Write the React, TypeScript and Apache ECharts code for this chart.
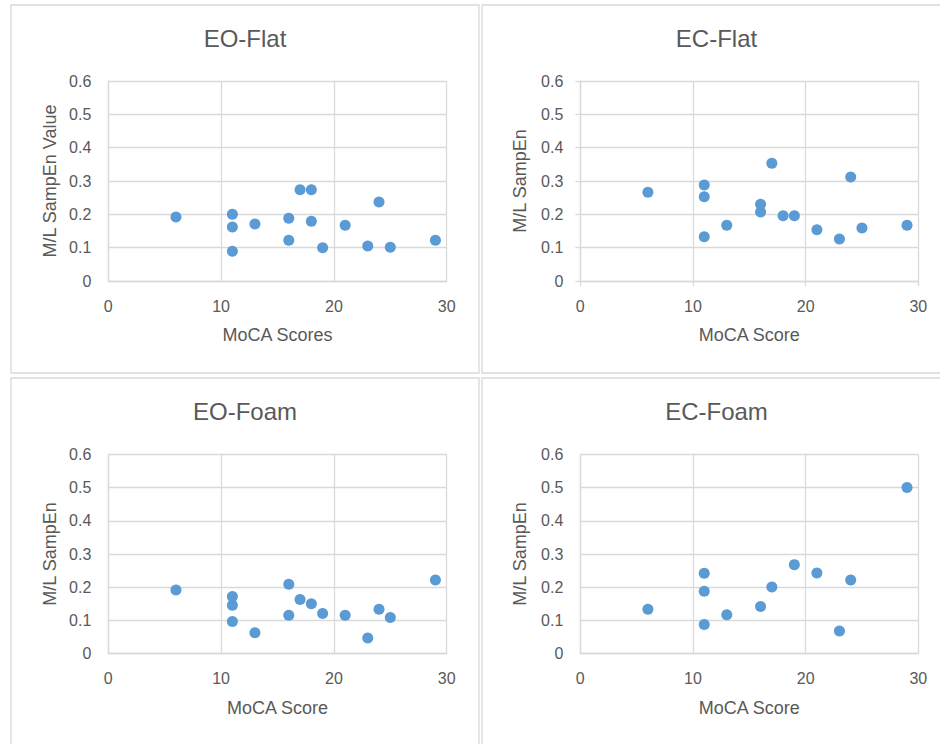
import React, { useEffect, useRef } from "react";
import * as echarts from "echarts";

// ---- Data ----
const panelTitles = ["EO-Flat", "EC-Flat", "EO-Foam", "EC-Foam"];
const xAxisNames = ["MoCA Scores", "MoCA Score", "MoCA Score", "MoCA Score"];
const yAxisNames = ["M/L SampEn Value", "M/L SampEn", "M/L SampEn", "M/L SampEn"];

const eoFlatMoca = [6, 11, 11, 11, 13, 16, 16, 17, 18, 18, 19, 21, 23, 24, 25, 29];
const eoFlatSampEn = [0.192, 0.2, 0.162, 0.089, 0.171, 0.188, 0.122, 0.274, 0.274, 0.179, 0.1, 0.167, 0.105, 0.237, 0.101, 0.122];

const ecFlatMoca = [6, 11, 11, 11, 13, 16, 16, 17, 18, 19, 21, 23, 24, 25, 29];
const ecFlatSampEn = [0.266, 0.288, 0.253, 0.133, 0.167, 0.23, 0.207, 0.353, 0.196, 0.196, 0.154, 0.126, 0.312, 0.159, 0.167];

const eoFoamMoca = [6, 11, 11, 11, 13, 16, 16, 17, 18, 19, 21, 23, 24, 25, 29];
const eoFoamSampEn = [0.192, 0.172, 0.146, 0.097, 0.063, 0.209, 0.116, 0.163, 0.15, 0.121, 0.116, 0.047, 0.134, 0.109, 0.222];

const ecFoamMoca = [6, 11, 11, 11, 13, 16, 17, 19, 21, 23, 24, 29];
const ecFoamSampEn = [0.134, 0.242, 0.188, 0.088, 0.117, 0.142, 0.201, 0.268, 0.243, 0.068, 0.222, 0.5];

const xTicks = { min: 0, max: 30, interval: 10 };
const yTicks = { min: 0, max: 0.6, interval: 0.1 };

const seriesX = [eoFlatMoca, ecFlatMoca, eoFoamMoca, ecFoamMoca];
const seriesY = [eoFlatSampEn, ecFlatSampEn, eoFoamSampEn, ecFoamSampEn];

// ---- Layout ----
const FONT = "'Liberation Sans', Arial, sans-serif";
const TEXT = "#595959";
const GRIDC = "#d9d9d9";
const MARK = "#5B9BD5";

const panels = [
  { x: 11, y: 5, w: 468, h: 368, gl: 108.3, gt: 81, gw: 338.4, gh: 200, tick: false },
  { x: 482, y: 5, w: 469, h: 368, gl: 580.3, gt: 81, gw: 338, gh: 200, tick: true },
  { x: 11, y: 378, w: 468, h: 370, gl: 108.3, gt: 454.3, gw: 338.4, gh: 199.4, tick: false },
  { x: 482, y: 378, w: 469, h: 370, gl: 580.3, gt: 454.3, gw: 338, gh: 199.4, tick: false },
];

export default function App() {
  const ref = useRef<HTMLDivElement>(null);

  useEffect(() => {
    if (!ref.current) return;
    const chart = echarts.init(ref.current, null, { renderer: "svg" });

    const graphic: any[] = [];
    panels.forEach((p, i) => {
      graphic.push({
        type: "rect",
        shape: { x: p.x, y: p.y, width: p.w, height: p.h },
        style: { fill: "#fff", stroke: GRIDC, lineWidth: 1.3 },
        z: -10,
        silent: true,
      });
      graphic.push({
        type: "text",
        x: p.x + p.w / 2,
        y: p.y + 33,
        style: {
          text: panelTitles[i],
          fill: TEXT,
          font: `24px ${FONT}`,
          align: "center",
          verticalAlign: "middle",
        },
        z: 10,
      });
    });

    const grid = panels.map((p) => ({
      left: p.gl,
      top: p.gt,
      width: p.gw,
      height: p.gh,
      containLabel: false,
    }));

    const xAxis = panels.map((p, i) => ({
      type: "value",
      gridIndex: i,
      min: xTicks.min,
      max: xTicks.max,
      interval: xTicks.interval,
      name: xAxisNames[i],
      nameLocation: "middle",
      nameGap: 45,
      nameTextStyle: { color: TEXT, fontSize: 18, fontFamily: FONT },
      axisLine: { show: true, lineStyle: { color: GRIDC, width: 1.3 } },
      axisTick: { show: p.tick, length: 5, lineStyle: { color: GRIDC, width: 1.3 } },
      axisLabel: { color: TEXT, fontSize: 16, fontFamily: FONT, margin: 17 },
      splitLine: { show: true, lineStyle: { color: GRIDC, width: 1.3 } },
    }));

    const yAxis = panels.map((p, i) => ({
      type: "value",
      gridIndex: i,
      min: yTicks.min,
      max: yTicks.max,
      interval: yTicks.interval,
      name: yAxisNames[i],
      nameLocation: "middle",
      nameGap: i % 2 === 0 ? 49 : 51,
      nameTextStyle: { color: TEXT, fontSize: 18, fontFamily: FONT },
      axisLine: { show: true, lineStyle: { color: GRIDC, width: 1.3 } },
      axisTick: { show: p.tick, length: 5, lineStyle: { color: GRIDC, width: 1.3 } },
      axisLabel: { color: TEXT, fontSize: 16, fontFamily: FONT, margin: 17 },
      splitLine: { show: true, lineStyle: { color: GRIDC, width: 1.3 } },
    }));

    const series = panels.map((_, i) => ({
      type: "scatter",
      xAxisIndex: i,
      yAxisIndex: i,
      symbol: "circle",
      symbolSize: 11,
      itemStyle: { color: MARK, opacity: 1 },
      data: seriesX[i].map((x, k) => [x, seriesY[i][k]]),
    }));

    chart.setOption({
      animation: false,
      backgroundColor: "#ffffff",
      textStyle: { fontFamily: FONT },
      graphic,
      grid,
      xAxis,
      yAxis,
      series,
    });

    return () => chart.dispose();
  }, []);

  return (
    <div
      ref={ref}
      style={{ position: "absolute", left: 0, top: 0, width: 940, height: 744 }}
    />
  );
}
